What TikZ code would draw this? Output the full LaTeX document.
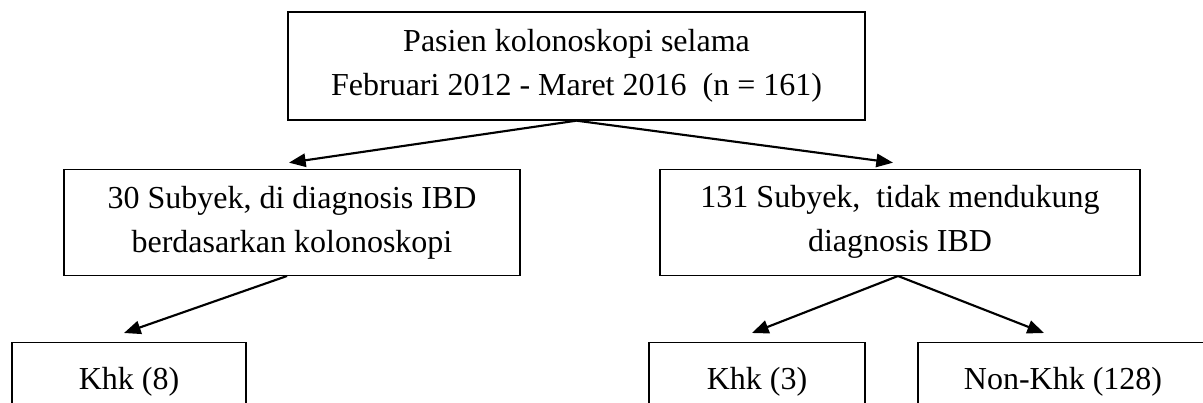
\documentclass[tikz,border=0pt]{standalone}
\usepackage{fontspec}
\setmainfont{Liberation Serif}
\usepackage{tikz}
\usetikzlibrary{arrows.meta,positioning}

\begin{document}
\begin{tikzpicture}[every node/.style={font=\fontsize{24}{33}\selectfont},box/.style={draw=black,line width=1pt,align=center,inner sep=0pt,minimum height=79.5pt},leaf/.style={box,minimum height=58.5pt},arr/.style={-{Triangle[length=12.5pt,width=10pt]},line width=1.6pt}]
\useasboundingbox (0,0) rectangle (902.25pt,-302.25pt);
\node[box,minimum width=432.75pt,minimum height=81pt] (pasien) at (432.4pt,-49.5pt) {Pasien kolonoskopi selama\\Februari 2012 - Maret 2016\ \ (n = 161)};
\node[box,minimum width=342pt,below=36pt of pasien,xshift=-213.4pt] (ibd) {30 Subyek, di diagnosis IBD\\berdasarkan kolonoskopi};
\node[box,minimum width=360pt,below=36pt of pasien,xshift=242.6pt] (nonibd) {131 Subyek,\ \ tidak mendukung\\diagnosis IBD};
\node[leaf,minimum width=175.5pt,below=49.5pt of ibd,xshift=-122.25pt] (khka) {Khk (8)};
\node[leaf,minimum width=162pt,below=49.5pt of nonibd,xshift=-107.25pt] (khkb) {Khk (3)};
\node[leaf,minimum width=217.5pt,below=49.5pt of nonibd,xshift=122.25pt] (nonkhk) {Non-Khk (128)};
\draw[arr] (pasien.south) -- ([shift={(-2.25pt,4.5pt)}]ibd.north);
\draw[arr] (pasien.south) -- ([shift={(-5.25pt,4.5pt)}]nonibd.north);
\draw[arr] ([xshift=-3.75pt]ibd.south) -- ([shift={(-3.75pt,6.75pt)}]khka.north);
\draw[arr] ([xshift=-1.5pt]nonibd.south) -- ([shift={(-3.75pt,6.75pt)}]khkb.north);
\draw[arr] ([xshift=-1.5pt]nonibd.south) -- ([shift={(-14.25pt,6.75pt)}]nonkhk.north);
\end{tikzpicture}
\end{document}
